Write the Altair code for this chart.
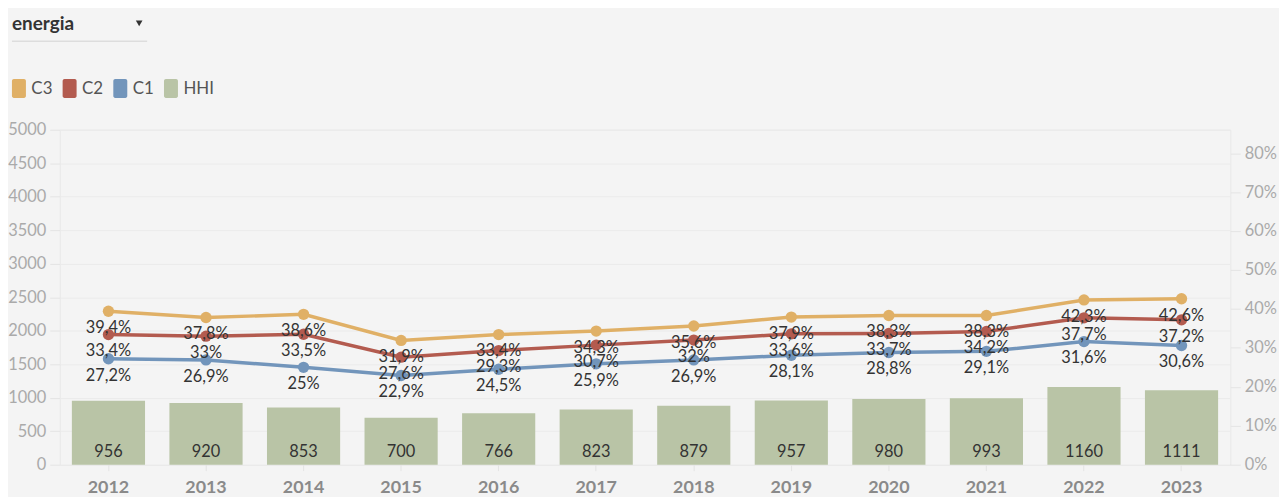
import altair as alt
import pandas as pd

years = ["2012", "2013", "2014", "2015", "2016", "2017", "2018", "2019", "2020", "2021", "2022", "2023"]
c3 = [39.4, 37.8, 38.6, 31.9, 33.4, 34.3, 35.6, 37.9, 38.3, 38.3, 42.3, 42.6]
c2 = [33.4, 33.0, 33.5, 27.6, 29.3, 30.7, 32.0, 33.6, 33.7, 34.2, 37.7, 37.2]
c1 = [27.2, 26.9, 25.0, 22.9, 24.5, 25.9, 26.9, 28.1, 28.8, 29.1, 31.6, 30.6]
hhi = [956, 920, 853, 700, 766, 823, 879, 957, 980, 993, 1160, 1111]

series_names = ["C3", "C2", "C1", "HHI"]
series_colors = ["#e0b066", "#b35b4f", "#7295bb", "#b9c4a6"]
selector_label = "energia"

FONT = "Lato"

# rounded, slightly tall swatch for the legend (unit coordinates)
SWATCH = ("M-0.54,-1 H0.54 A0.2,0.2 0 0 1 0.74,-0.8 V0.8 A0.2,0.2 0 0 1 0.54,1 "
          "H-0.54 A0.2,0.2 0 0 1 -0.74,0.8 V-0.8 A0.2,0.2 0 0 1 -0.54,-1 Z")


def pct_label(v):
    s = f"{v:.1f}"
    if s.endswith(".0"):
        s = s[:-2]
    return s.replace(".", ",") + "%"


rows = []
for name, vals in [("C3", c3), ("C2", c2), ("C1", c1)]:
    for y, v in zip(years, vals):
        rows.append({"Year": y, "series": name, "value": v / 100.0, "label": pct_label(v)})
lines_df = pd.DataFrame(rows)

bars_df = pd.DataFrame({"Year": years, "HHI": hhi, "s": ["HHI"] * len(years)})

color_scale = alt.Scale(domain=series_names, range=series_colors)

x_enc = alt.X(
    "Year:O",
    scale=alt.Scale(paddingInner=0.25, paddingOuter=0.125),
    axis=alt.Axis(
        title=None, labelAngle=0, labelFontWeight="bold", labelColor="#8a8a8a",
        labelFontSize=18, labelFont=FONT, domain=False, tickColor="#e4e4e4",
        tickSize=6, labelPadding=8,
    ),
)

bars = alt.Chart(bars_df).mark_bar(opacity=1).encode(
    x=x_enc,
    y=alt.Y(
        "HHI:Q",
        scale=alt.Scale(domain=[0, 5000], nice=False),
        axis=alt.Axis(
            title=None, values=list(range(0, 5001, 500)), format="d", domain=False,
            labelColor="#aaaaaa", labelFontSize=16.5, labelFont=FONT,
            tickColor="#e4e4e4", tickSize=10, labelPadding=4,
            gridColor="#ebebeb",
        ),
    ),
    color=alt.Color(
        "s:N", scale=color_scale,
        legend=alt.Legend(
            title=None, orient="none", direction="horizontal",
            legendX=-50.5, legendY=-51, symbolType=SWATCH, symbolSize=361,
            symbolStrokeWidth=0, symbolOpacity=1, labelFontSize=17,
            labelColor="#555555", labelFont=FONT, columnPadding=7,
            labelOffset=3,
        ),
    ),
)

bar_text = alt.Chart(bars_df).mark_text(
    fontSize=16.5, color="#333333", font=FONT, baseline="middle"
).encode(
    x=alt.X("Year:O"),
    y=alt.value(324),
    text=alt.Text("HHI:Q"),
)

y_pct = alt.Y(
    "value:Q",
    scale=alt.Scale(domain=[0, 0.86], nice=False),
    axis=alt.Axis(
        title=None, orient="right", format=".0%",
        values=[0, 0.1, 0.2, 0.3, 0.4, 0.5, 0.6, 0.7, 0.8],
        grid=False, domain=False, labelColor="#aaaaaa", labelFontSize=16.5,
        labelFont=FONT, tickColor="#e4e4e4", tickSize=10, labelPadding=4,
    ),
)

line_base = alt.Chart(lines_df).encode(
    x=alt.X("Year:O"),
    y=y_pct,
    color=alt.Color("series:N", scale=color_scale, legend=None),
)

lines = line_base.mark_line(strokeWidth=3.5)
points = line_base.mark_circle(size=130, opacity=1)
pct_text = alt.Chart(lines_df).mark_text(
    fontSize=16.5, color="#333333", font=FONT, dy=17, baseline="middle"
).encode(
    x=alt.X("Year:O"),
    y=alt.Y("value:Q"),
    text="label:N",
)

pct_layer = alt.layer(lines, points, pct_text)

sel_df = pd.DataFrame({"t": [selector_label]})
sel_text = alt.Chart(sel_df).mark_text(
    fontSize=19, fontWeight="bold", color="#333333", font=FONT,
    align="left", baseline="middle",
).encode(x=alt.value(-48), y=alt.value(-106), text="t:N")
sel_arrow = alt.Chart(sel_df).mark_point(
    shape="triangle-down", filled=True, size=45, color="#333333", opacity=1
).encode(x=alt.value(80), y=alt.value(-107))
sel_line = alt.Chart(sel_df).mark_rule(color="#dddddd", strokeWidth=1.5).encode(
    x=alt.value(-48), x2=alt.value(88), y=alt.value(-89)
)

chart = alt.layer(
    bars, bar_text, pct_layer, sel_text, sel_arrow, sel_line
).resolve_scale(y="independent").properties(
    width=1178, height=337,
    autosize=alt.AutoSizeParams(type="none"),
    padding={"left": 52, "top": 121, "right": 49, "bottom": 31},
    background="#f4f4f4",
).configure_view(stroke="#e8e8e8").configure_axis(gridColor="#ebebeb")

chart.save("out.html", embed_options={"renderer": "svg", "actions": False})
